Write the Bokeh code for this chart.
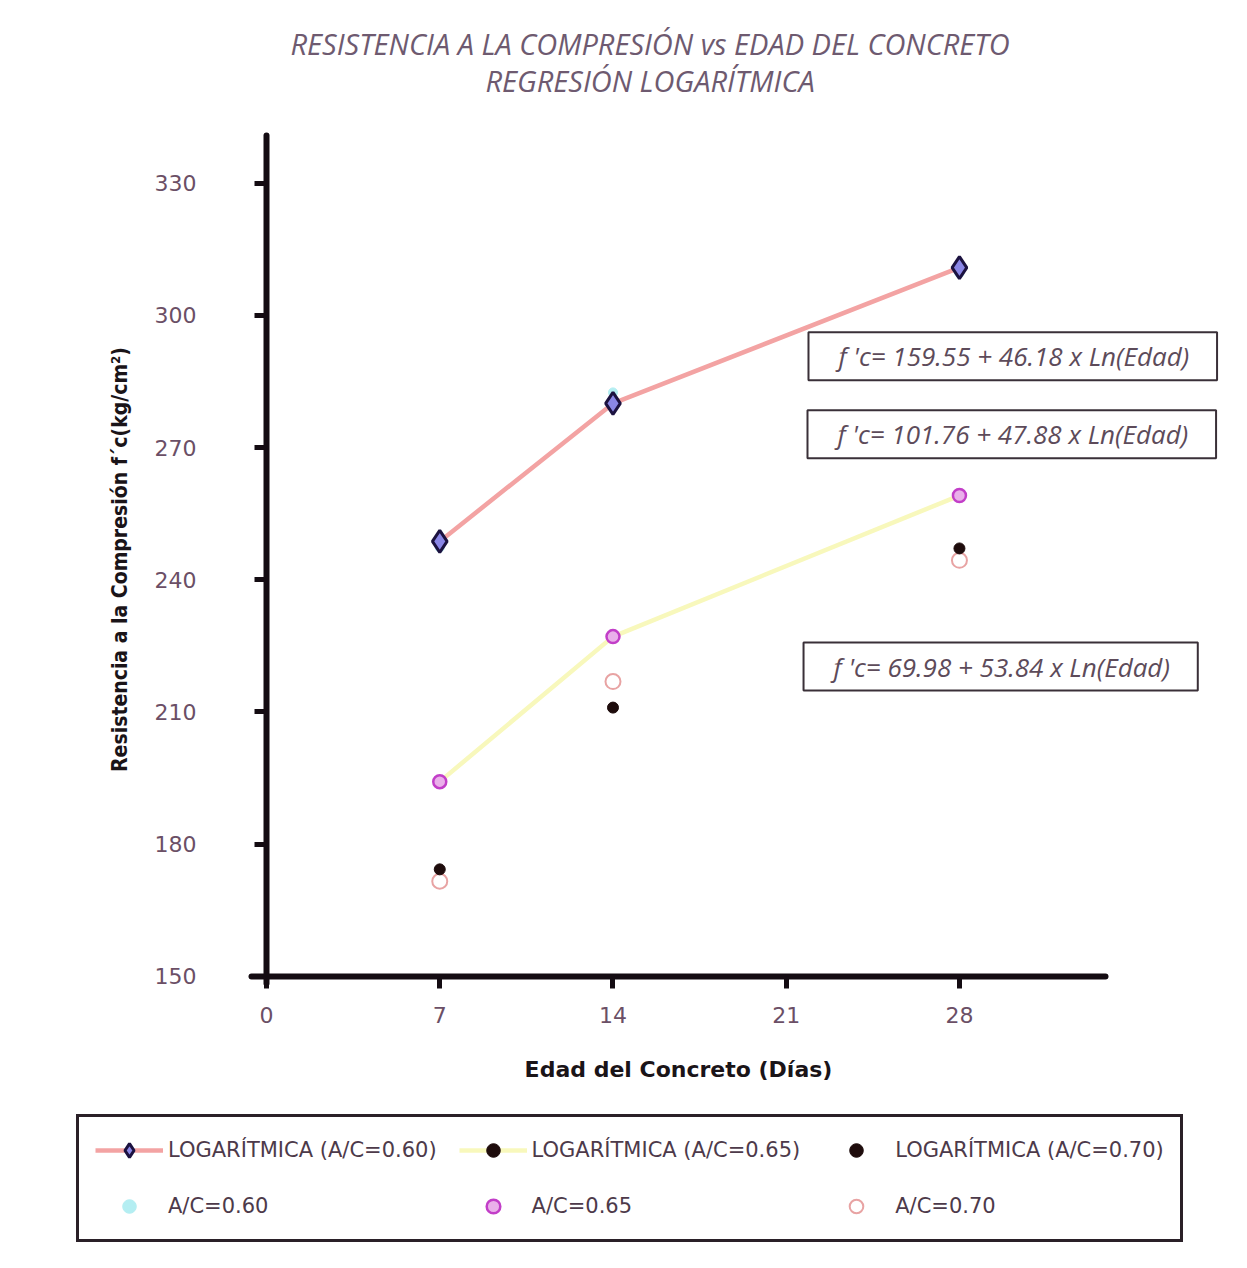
from bokeh.plotting import figure
from bokeh.models import Range1d, Legend, LegendItem, Label, FixedTicker
from bokeh.embed import file_html
from bokeh.resources import INLINE

# ---- data ----
dias = [7, 14, 28]
log_060 = [248.7, 280.0, 310.8]
log_065 = [194.2, 227.1, 259.1]
log_070 = [174.3, 211.0, 247.1]
ac_060 = [247.3, 282.5, 309.5]
ac_065 = [194.2, 227.1, 259.1]
ac_070 = [171.6, 216.9, 244.4]
x_ticks = [0, 7, 14, 21, 28]
y_ticks = [150, 180, 210, 240, 270, 300, 330]
titulo = ["RESISTENCIA A LA COMPRESIÓN vs EDAD DEL CONCRETO", "REGRESIÓN LOGARÍTMICA"]
titulo_x = [15.5, 15.5]
titulo_y = [361.7, 353.3]
ecuaciones = ["f 'c= 159.55 + 46.18 x Ln(Edad)",
              "f 'c= 101.76 + 47.88 x Ln(Edad)",
              "f 'c= 69.98 + 53.84 x Ln(Edad)"]
eq_x = [21.9, 21.86, 21.7]
eq_y = [290.7, 273.0, 220.3]

TXT = "#6b4f66"
p = figure(width=1247, height=1268, output_backend="svg", toolbar_location=None,
           x_range=Range1d(-10.75, 39.64), y_range=Range1d(83.76, 371.4),
           min_border=0, outline_line_color=None)
p.xgrid.visible = False
p.ygrid.visible = False

p.xaxis.ticker = FixedTicker(ticks=x_ticks)
p.yaxis.ticker = FixedTicker(ticks=y_ticks)
p.xaxis.fixed_location = 150
p.yaxis.fixed_location = 0
p.xaxis.bounds = (-0.6, 33.9)
p.yaxis.bounds = (148.3, 340.8)
for ax in (p.xaxis[0], p.yaxis[0]):
    ax.axis_line_width = 6
    ax.axis_line_color = "#140c12"
    ax.axis_line_cap = "round"
    ax.major_tick_line_width = 5
    ax.major_tick_line_color = "#140c12"
    ax.major_tick_out = 12
    ax.major_tick_in = 0
    ax.minor_tick_line_color = None
    ax.major_label_text_font = "DejaVu Sans"
    ax.major_label_text_font_size = "22px"
    ax.major_label_text_color = TXT
    ax.axis_label_text_font_style = "bold"
    ax.axis_label_text_color = "#1a1418"

p.yaxis.major_label_standoff = 58
p.xaxis.major_label_standoff = 19
p.yaxis.axis_label = "Resistencia a la Compresión f´c(kg/cm²)"
p.yaxis.axis_label_text_font = "DejaVu Sans Condensed"
p.yaxis.axis_label_text_font_size = "21px"
p.yaxis.axis_label_standoff = 20
p.xaxis.axis_label = "Edad del Concreto (Días)"
p.xaxis.axis_label_text_font = "DejaVu Sans"
p.xaxis.axis_label_text_font_size = "22px"
p.xaxis.axis_label_standoff = 30

# ---- glyphs ----
r_ac060 = p.scatter(dias, ac_060, marker="circle", size=9, fill_color="#b4eef2",
                    line_color="#b4eef2")
r_l060 = p.line(dias, log_060, line_color="#f3a3a3", line_width=4.5)
r_m060 = p.scatter(dias, log_060, marker="diamond", size=22, fill_color="#8a86e6",
                   line_color="#1c1240", line_width=3)
r_l065 = p.line(dias, log_065, line_color="#f8f8bc", line_width=4.5)
r_ac070 = p.scatter(dias, ac_070, marker="circle", size=15, fill_color="white",
                    line_color="#e8a3a3", line_width=2)
r_m070 = p.scatter(dias, log_070, marker="circle", size=11, fill_color="#1e0c0c",
                   line_color="#1e0c0c")
r_m065 = p.scatter(dias, log_065, marker="circle", size=11, fill_color="#1e0c0c",
                   line_color="#1e0c0c")
r_ac065 = p.scatter(dias, ac_065, marker="circle", size=13, fill_color="#eab0ea",
                    line_color="#c23ec8", line_width=2.5)

for t, x, y in zip(titulo, titulo_x, titulo_y):
    p.add_layout(Label(x=x, y=y, text=t, text_align="center", text_baseline="middle",
                       text_font="Open Sans", text_font_style="italic",
                       text_font_size="29px", text_color="#6e5a70"))

for t, x, y in zip(ecuaciones, eq_x, eq_y):
    p.add_layout(Label(x=x, y=y, text=t, text_align="left", text_baseline="middle",
                       text_font="Open Sans", text_font_style="italic",
                       text_font_size="26px", text_color="#5d4b5a",
                       background_fill_color="white", border_line_color="#3a3038",
                       border_line_width=2,
                       padding=dict(left=30, right=28, top=6, bottom=6)))

legend = Legend(items=[
    LegendItem(label="LOGARÍTMICA (A/C=0.60)", renderers=[r_l060, r_m060]),
    LegendItem(label="LOGARÍTMICA (A/C=0.65)", renderers=[r_l065, r_m065]),
    LegendItem(label="LOGARÍTMICA (A/C=0.70)", renderers=[r_m070]),
    LegendItem(label="A/C=0.60", renderers=[r_ac060]),
    LegendItem(label="A/C=0.65", renderers=[r_ac065]),
    LegendItem(label="A/C=0.70", renderers=[r_ac070]),
], orientation="horizontal", ncols=3, location=(76, 26),
    glyph_width=68, glyph_height=34, label_standoff=5, spacing=22, padding=16,
    label_text_font="DejaVu Sans", label_text_font_size="21px",
    label_text_color="#4d3a4a", border_line_color="#2a2028", border_line_width=3,
    border_line_alpha=1.0, background_fill_color="white")
p.add_layout(legend, "center")

open("out.html", "w").write(file_html(p, INLINE))
